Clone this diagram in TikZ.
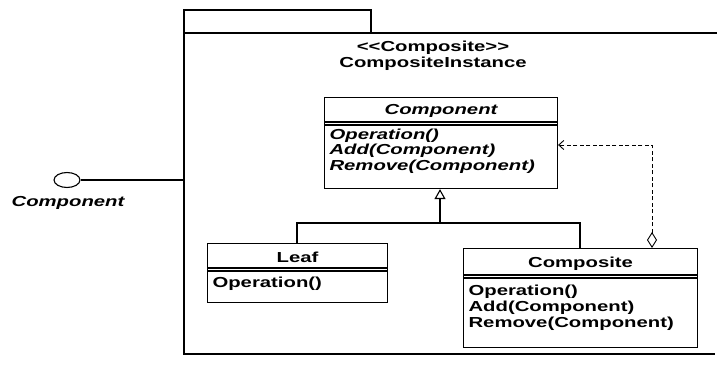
\documentclass[tikz,border=0pt]{standalone}
\usepackage{fontspec}
\setmainfont{Liberation Sans}[FakeStretch=1.4]
\usetikzlibrary{arrows.meta,shapes.geometric,calc}
\begin{document}
\begin{tikzpicture}[x=1pt,y=-1pt,
  line width=1.1pt,
  cls/.style={draw, rectangle, inner sep=0pt, anchor=north west},
  txt/.style={inner sep=0pt, font=\fontsize{14.5}{16}\selectfont\bfseries},
  itxt/.style={txt, font=\fontsize{14.5}{15.5}\selectfont\bfseries\itshape},
  ops/.style={align=left, anchor=north west},
  gen/.style={-{Triangle[open,width=11pt,length=10pt]}},
  agg/.style={{Diamond[open,width=10pt,length=16pt]}-{Straight Barb[length=5pt,width=9pt]}, line width=0.9pt, dash pattern=on 4pt off 2.5pt},
]
\useasboundingbox (0,0) rectangle (717,366);

% package frame with its tab
\coordinate (tabnw) at (184,10);
\coordinate (tabse) at (371,33);
\coordinate (pkgtl) at (184,33);
\coordinate (pkgtr) at (717,33);
\coordinate (pkgbl) at (184,354);
\coordinate (pkgbr) at (715,354);
\draw[line width=1.5pt] (tabnw) rectangle (tabse);
\draw[line width=1.5pt] (pkgtr) -- (pkgtl) -- (pkgbl) -- (pkgbr);

% provided interface
\node[draw, ellipse, minimum width=26pt, minimum height=15pt, inner sep=0pt] (ball) at (67,180) {};
\coordinate (port) at (184,180);
\draw (ball.east) -- (port);
\node[itxt] (balllbl) at (68,203) {Component};

% collaboration name
\node[txt, align=center] (collab) at (433,56) {<\kern0pt<Composite>\kern0pt>\\CompositeInstance};

% Component class
\node[cls, minimum width=233pt, minimum height=91pt] (comp) at (324,97) {};
\node[itxt] (compT) at ($(comp.north)+(0,14)$) {Component};
\draw ([yshift=-25pt]comp.north west) -- ([yshift=-25pt]comp.north east);
\draw ([yshift=-28pt]comp.north west) -- ([yshift=-28pt]comp.north east);
\node[itxt, ops] (compO) at ([xshift=5pt,yshift=-31pt]comp.north west)
  {Operation()\\Add(Component)\\Remove(Component)};

% Leaf class
\node[cls, minimum width=180pt, minimum height=59pt] (leaf) at (207,243) {};
\node[txt] (leafT) at ($(leaf.north)+(0,14)$) {Leaf};
\draw ([yshift=-25pt]leaf.north west) -- ([yshift=-25pt]leaf.north east);
\draw ([yshift=-28pt]leaf.north west) -- ([yshift=-28pt]leaf.north east);
\node[txt, ops] (leafO) at ([xshift=5pt,yshift=-33pt]leaf.north west) {Operation()};

% Composite class
\node[cls, minimum width=234pt, minimum height=99pt] (compos) at (463,248) {};
\node[txt] (composT) at ($(compos.north)+(0,16)$) {Composite};
\draw ([yshift=-27pt]compos.north west) -- ([yshift=-27pt]compos.north east);
\draw ([yshift=-30pt]compos.north west) -- ([yshift=-30pt]compos.north east);
\node[txt, ops] (composO) at ([xshift=5pt,yshift=-36pt]compos.north west)
  {Operation()\\Add(Component)\\Remove(Component)};

% generalization
\coordinate (junction) at (440,223);
\draw (leaf.north -| 297,0) |- (junction);
\draw (compos.north -| 580,0) |- (junction);
\draw[gen] (junction) -- (comp.south -| junction);

% aggregation back to Component
\coordinate (aggbase) at (652,248);
\draw[agg] (compos.north -| aggbase) |- ([yshift=-48pt]comp.north east);
\end{tikzpicture}
\end{document}
